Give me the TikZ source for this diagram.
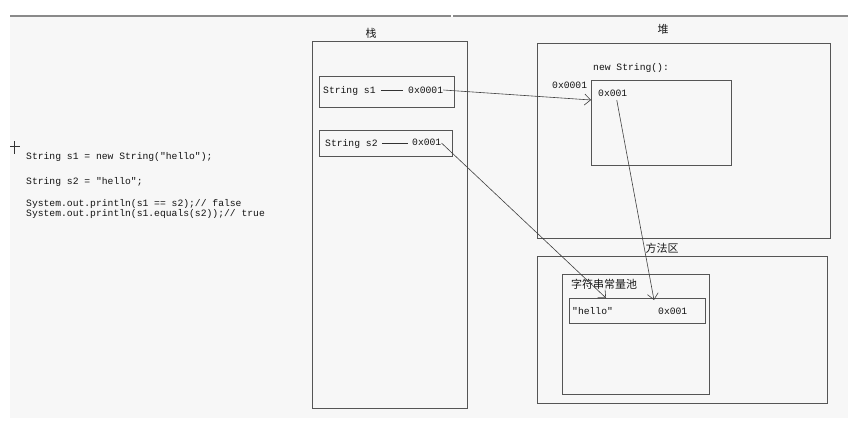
\documentclass[tikz,border=0pt]{standalone}
\usepackage{fontspec}
\setmonofont{Liberation Mono}
\newfontfamily\cjk{Noto Sans CJK SC}
\usetikzlibrary{arrows.meta}
\definecolor{bg}{HTML}{F7F7F7}
\definecolor{linegray}{HTML}{555555}
\definecolor{topgray}{HTML}{8A8A8A}
\begin{document}
\begin{tikzpicture}[x=1pt,y=-1pt,
  box/.style={draw=linegray, line width=0.9pt, anchor=north west, inner sep=0pt},
  code/.style={font=\ttfamily\fontsize{9.7}{11}\selectfont, inner sep=0pt, anchor=base west, text=black!92},
  cn/.style={font=\cjk\fontsize{11}{13}\selectfont, inner sep=0pt, text=black!90},
  ptr/.style={draw=black!75, line width=0.6pt, -{Straight Barb[length=6pt,width=11pt]}},
  dashline/.style={draw=black!80, line width=0.6pt},
]
\useasboundingbox (0,0) rectangle (854,423);
\fill[white] (0,0) rectangle (854,423);
\fill[bg] (10,17) rectangle (848,418);
\draw[topgray, line width=1.2pt] (10,16) -- (451,16) (453,16) -- (848,16);

% cursor mark
\draw[black!80, line width=0.6pt] (10,146) -- (20,146) (14,141) -- (14,154);

% code
\node[code] (c1) at (26,159.5) {String s1 = new String("hello");};
\node[code] (c2) at (26,184.5) {String s2 = "hello";};
\node[code] (c3) at (26,206.5) {System.out.println(s1 == s2);// false};
\node[code] (c4) at (26,216.5) {System.out.println(s1.equals(s2));// true};

% stack
\node[cn] (stacklbl) at (371,33) {栈};
\node[box, minimum width=155, minimum height=367] (stack) at (312,41) {};
\node[box, minimum width=135, minimum height=31] (s1box) at (319,76) {};
\node[code] (s1t) at (323,93.5) {String s1};
\node[code] (a1) at (408,93.5) {0x0001};
\coordinate (m1) at (0,90);
\draw[dashline] ([xshift=5]s1t.east |- m1) -- ([xshift=-5]a1.west |- m1);
\node[box, minimum width=133, minimum height=26] (s2box) at (319,130) {};
\node[code] (s2t) at (325,146.5) {String s2};
\node[code] (a2) at (412,145.5) {0x001};
\coordinate (m2) at (0,143);
\draw[dashline] ([xshift=4]s2t.east |- m2) -- ([xshift=-4]a2.west |- m2);

% heap
\node[cn] (heaplbl) at (663,29) {堆};
\node[box, minimum width=293, minimum height=195] (heap) at (537,43) {};
\node[code] (newstr) at (593,70.5) {new String():};
\node[box, minimum width=140, minimum height=85] (obj) at (591,80) {};
\node[code] (objaddr) at (552,88.5) {0x0001};
\node[code] (ia) at (598,96.5) {0x001};

% method area
\node[cn] (malbl) at (662,248) {方法区};
\node[box, minimum width=290, minimum height=147] (ma) at (537,256) {};
\node[box, minimum width=147, minimum height=120] (pool) at (562,274) {};
\node[cn, anchor=west] (poollbl) at (571,284) {字符串常量池};
\node[box, minimum width=136, minimum height=25] (hbox) at (569,298) {};
\node[code] (hello) at (572,314.5) {"hello"};
\node[code] (ha) at (658,314.5) {0x001};

% connectors
\coordinate (t1) at (591,100);
\coordinate (t2) at (606,298);
\coordinate (t3) at (654,300);
\coordinate (m3) at (0,100);
\draw[ptr] (a1.east |- m1) -- (t1);
\draw[ptr] (a2.east |- m2) -- (t2);
\draw[ptr] ([xshift=4pt]ia.south |- m3) -- (t3);
\end{tikzpicture}
\end{document}
